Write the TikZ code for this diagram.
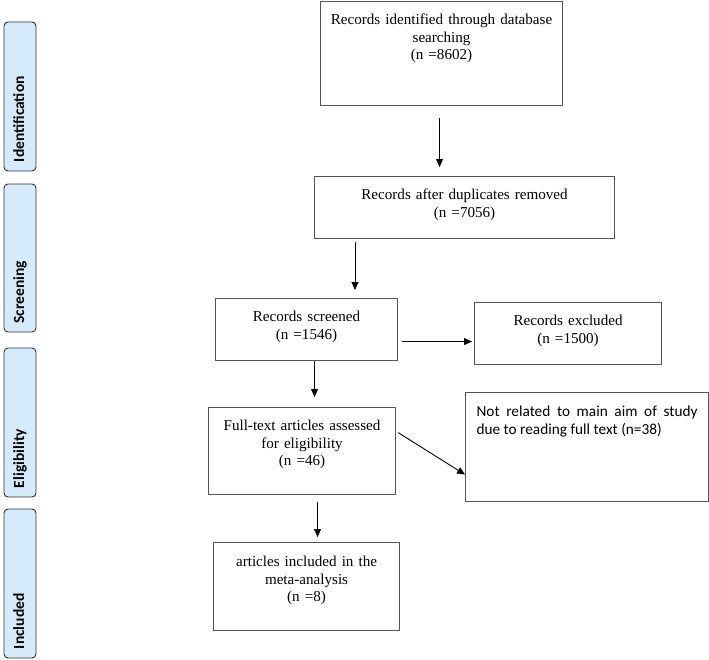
\documentclass[tikz,border=0pt]{standalone}
\usepackage{fontspec}
\setmainfont{Liberation Serif}
\newfontfamily\calibri{Carlito}
\usetikzlibrary{arrows.meta,calc}
\definecolor{lblue}{RGB}{213,235,251}
\definecolor{bordergray}{RGB}{85,85,85}
\begin{document}
\begin{tikzpicture}[x=1pt,y=-1pt,
  box/.style={draw=bordergray, line width=1.1pt, inner xsep=10pt, inner ysep=0pt,
    align=center, text height=23pt, anchor=north west,
    font=\fontsize{15.1}{17.5}\selectfont},
  side/.style={draw=black!80, fill=lblue, rounded corners=4pt, line width=0.9pt,
    rotate=90, minimum height=32pt, inner sep=0pt, text width=131pt, align=left,
    text height=11pt, text depth=3pt,
    font=\calibri\bfseries\fontsize{15.5}{18}\selectfont},
  arr/.style={-{Triangle[length=8pt,width=7pt]}, line width=0.9pt}]
\useasboundingbox (0,0) rectangle (709,659);

% side labels
\node[side, minimum width=149pt] (s1) at (20,96.5) {Identification};
\node[side, minimum width=148pt] (s2) at (20,258) {Screening};
\node[side, minimum width=149pt] (s3) at (20,422.5) {Eligibility};
\node[side, minimum width=149pt] (s4) at (20,583.5) {Included};

% boxes
\node[box, text width=222pt, text depth=81pt] (b1) at (320,1)
  {Records identified through database\\searching\\(n =8602)};
\node[box, text width=280pt, text depth=39pt] (b2) at (314,176)
  {Records after duplicates removed\\(n =7056)};
\node[box, text width=162pt, text depth=39pt] (b3) at (215,298)
  {Records screened\\(n =1546)};
\node[box, text width=167pt, text depth=39pt] (b4) at (474,302)
  {Records excluded\\(n =1500)};
\node[box, text width=167pt, text depth=64pt] (b5) at (208,407)
  {Full-text articles assessed\\for eligibility\\(n =46)};
\node[box, inner xsep=11pt, text width=221pt, text height=23.5pt, text depth=85.5pt,
  align=justify, font=\calibri\fontsize{15.3}{18.3}\selectfont] (b6) at (465,392)
  {Not related to main aim of study\linebreak due to reading full text (n=38)};
\node[box, text width=166pt, text height=24pt, text depth=64pt] (b7) at (213,542)
  {articles included in the\\meta-analysis\\(n =8)};

% connectors
\draw[arr] ($(b1.south)+(-2,12)$) -- ($(b1.south |- b2.north)+(-2,-9)$);
\draw[arr] ($(b2.south west)+(41,3)$) -- ($(b2.south west |- b3.north)+(41,-8)$);
\draw[arr] ($(b3.east)+(4,12)$) -- ($(b3.east -| b4.west)+(-2,12)$);
\draw[arr] ($(b3.south)+(8,0)$) -- ($(b3.south |- b5.north)+(8,-10)$);
\draw[arr] ($(b5.east)+(2,-18.5)$) -- ($(b6.west)+(0,27.5)$);
\draw[arr] ($(b5.south)+(15.5,7)$) -- ($(b5.south |- b7.north)+(15.5,-5)$);
\end{tikzpicture}
\end{document}
